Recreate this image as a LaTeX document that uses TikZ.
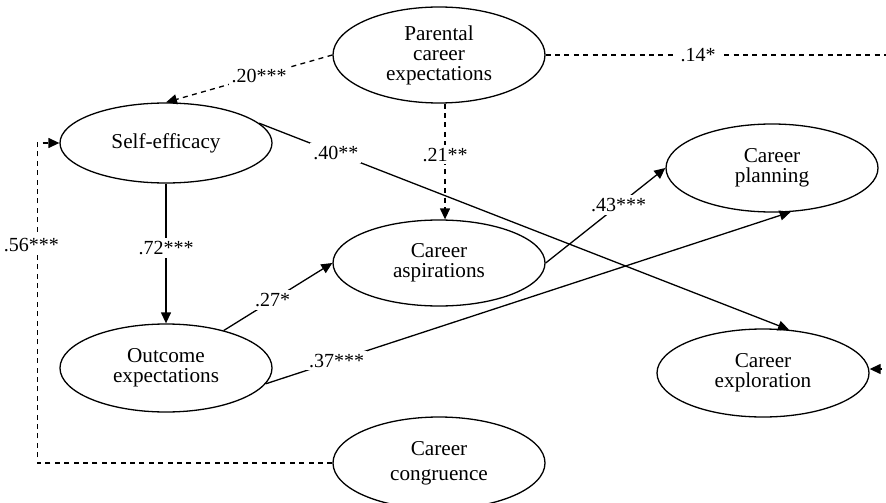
\documentclass[tikz,border=0pt]{standalone}
\usepackage{fontspec}
\setmainfont{Liberation Serif}
\usetikzlibrary{arrows.meta,shapes.geometric}
\begin{document}
\begin{tikzpicture}[x=0.5pt,y=-0.5pt,
  var/.style={ellipse,draw,line width=0.65pt,inner sep=0pt,minimum width=106pt,minimum height=44pt,align=center,font=\fontsize{10.6}{10}\selectfont},
  lbl/.style={fill=white,inner sep=1.5pt,font=\fontsize{10}{12}\selectfont},
  conn/.style={line width=0.65pt,-{Triangle[length=5.5pt,width=5pt]}},
  dsh/.style={conn,dash pattern=on 2.5pt off 2.2pt},
]
\useasboundingbox (0,0) rectangle (886,502);
\clip (0,0) rectangle (886,502);
\node[var,minimum height=48pt] (P) at (439,55) {Parental\\career\\expectations};
\node[var,minimum height=40pt] (SE) at (166,143) {Self-efficacy};
\node[var] (PL) at (772,168) {Career\\planning};
\node[var,minimum height=43pt] (AS) at (439,263) {Career\\aspirations};
\node[var] (OE) at (166,368) {Outcome\\expectations};
\node[var] (EX) at (763,373) {Career\\exploration};
\node[var,minimum height=46pt] (CC) at (439,463) {Career\\[2.5pt]congruence};
\coordinate (R) at (900,55);
\draw[dsh] (P.west) -- node[lbl,pos=0.44] (l20) {.20***} (SE.north);
\draw[dsh] (P.east) -- node[lbl,pos=0.43,inner xsep=3pt] (l14) {.14*} (R) |- ([yshift=2pt]EX.east);
\draw[dsh] ([xshift=3pt]P.south) -- node[lbl,pos=0.44] (l21) {.21**} ([xshift=3pt]AS.north);
\draw[conn] (SE.south) -- node[lbl,pos=0.46] (l72) {.72***} (OE.north);
\draw[conn] (SE.12) -- node[lbl,pos=0.145] (l40) {.40**} (EX.59);
\draw[conn] (OE.33) -- node[lbl,pos=0.45] (l27) {.27*} (AS.west);
\draw[conn] (OE.-9) -- node[lbl,pos=0.135] (l37) {.37***} (PL.-67);
\draw[conn] (AS.east) -- node[lbl,pos=0.61] (l43) {.43***} (PL.west);
\draw[dsh] (CC.west) -| node[lbl,pos=0.84,xshift=-3pt] (l56) {.56***} ([xshift=-11pt]SE.west) -- (SE.west);
\end{tikzpicture}
\end{document}
